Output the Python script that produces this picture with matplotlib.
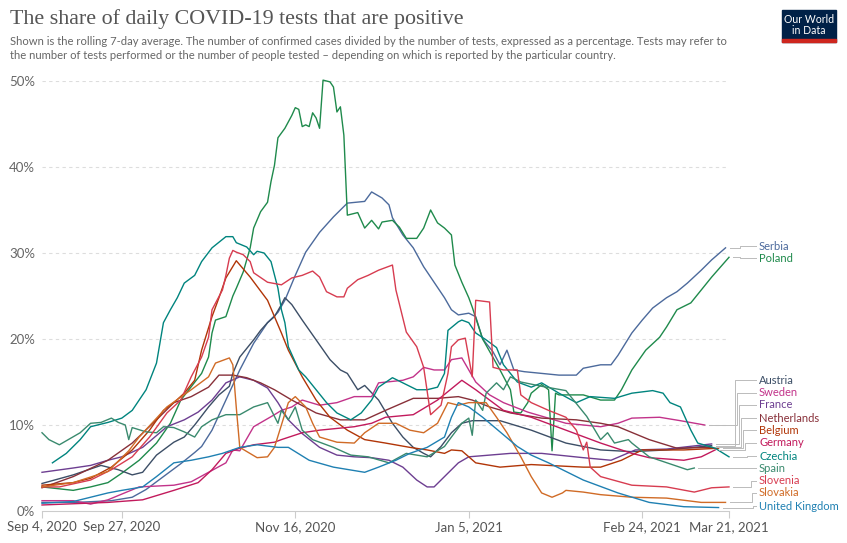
import numpy as np
import matplotlib
matplotlib.use('Agg')
import matplotlib.pyplot as plt
from matplotlib.lines import Line2D
from matplotlib.patches import Rectangle

plt.rcParams['font.family'] = ['Lato', 'DejaVu Sans']

# days since Sep 4, 2020 and share of positive tests (%)
serbia_day = [0, 10, 20, 26, 30, 35, 40, 44, 46, 49, 53, 57, 61, 65, 68, 70, 73, 76, 80, 84,
              88, 93, 95, 98, 100, 101, 104, 107, 110, 113, 116, 118, 120, 123, 125, 127, 130, 132, 134, 136,
              139, 144, 149, 154, 156, 161, 164, 166, 170, 173, 176, 180, 183, 186, 190, 193, 197]
serbia_pct = [1.0, 1.0, 1.2, 1.6, 2.5, 4.0, 5.5, 6.8, 7.5, 9.4, 12.9, 16.4, 19.5, 21.9, 23.1, 24.5, 27.4, 30.1, 32.4, 34.2,
              35.8, 36.0, 37.1, 36.4, 35.6, 34.1, 32.1, 30.6, 28.4, 26.6, 24.8, 23.4, 22.8, 23.0, 22.6, 20.0, 18.5, 17.0, 18.7, 16.4,
              16.2, 16.0, 15.8, 15.8, 16.6, 17.0, 17.0, 18.1, 20.7, 22.2, 23.6, 24.8, 25.5, 26.5, 28.0, 29.2, 30.6]

poland_day = [0, 9, 14, 19, 23, 28, 33, 37, 40, 46, 48, 49, 50, 53, 55, 56, 58, 60, 61, 63,
              65, 66, 67, 68, 70, 72, 73, 74, 75, 76, 77, 78, 79, 80, 81, 83, 84, 85, 86, 87,
              88, 91, 93, 95, 97, 98, 101, 103, 105, 108, 110, 112, 114, 116, 118, 119, 121, 123, 124, 127,
              132, 135, 136, 138, 140, 141, 144, 146, 147, 148, 149, 156, 161, 165, 167, 170, 174, 178, 180, 183,
              187, 190, 193, 198]
poland_pct = [2.8, 2.4, 2.8, 3.3, 4.4, 5.9, 7.9, 10.2, 12.9, 16.0, 17.9, 20.7, 22.2, 22.6, 25.0, 25.9, 27.8, 30.6, 32.9, 34.8,
              35.9, 38.3, 40.2, 43.4, 44.5, 46.0, 46.9, 46.7, 44.7, 44.9, 44.7, 46.3, 45.7, 44.5, 50.1, 49.9, 49.3, 46.4, 47.0, 43.7,
              34.4, 34.7, 32.9, 33.8, 32.8, 33.6, 33.8, 33.0, 31.7, 31.7, 32.9, 35.0, 33.5, 32.9, 32.1, 28.6, 26.6, 24.8, 23.7, 20.0,
              16.4, 14.1, 11.5, 11.4, 12.6, 13.7, 14.7, 14.1, 7.0, 13.7, 13.5, 13.5, 12.9, 12.9, 14.1, 16.4, 18.7, 20.2, 21.4, 23.4,
              24.2, 25.7, 27.2, 29.5]

austria_day = [0, 9, 17, 22, 26, 29, 33, 38, 41, 44, 48, 51, 54, 55, 57, 61, 63, 65, 67, 69,
               70, 72, 75, 79, 83, 86, 88, 91, 93, 97, 101, 104, 107, 110, 112, 115, 118, 121, 124, 128,
               132, 141, 151, 161, 170, 180, 193]
austria_pct = [3.2, 4.2, 5.3, 4.8, 4.2, 4.5, 6.5, 8.0, 8.6, 10.0, 12.1, 13.5, 14.5, 16.0, 17.9, 19.9, 21.0, 21.9, 22.6, 24.0,
               24.8, 24.0, 22.2, 19.9, 17.6, 16.4, 16.0, 14.1, 14.6, 12.9, 10.2, 8.6, 7.4, 6.7, 6.3, 7.5, 9.1, 10.2, 10.5, 10.5,
               10.5, 9.4, 7.9, 7.1, 6.9, 7.1, 7.6]

sweden_day = [0, 9, 14, 19, 28, 38, 43, 48, 53, 55, 57, 61, 67, 69, 72, 75, 80, 85, 90, 95,
              97, 104, 107, 110, 113, 116, 118, 121, 125, 129, 133, 140, 151, 161, 166, 170, 178, 184, 191]
sweden_pct = [1.2, 1.2, 0.8, 1.3, 2.8, 3.0, 3.4, 4.5, 5.6, 7.1, 7.0, 9.8, 11.2, 11.7, 12.1, 12.9, 12.3, 12.6, 13.3, 13.3,
              14.9, 15.2, 15.6, 16.7, 16.4, 16.4, 17.6, 17.8, 15.0, 13.5, 12.6, 11.5, 10.2, 9.8, 10.2, 10.8, 10.9, 10.5, 10.0]

france_day = [0, 9, 14, 19, 23, 29, 36, 41, 45, 49, 53, 57, 61, 65, 68, 71, 75, 80, 85, 90,
              95, 100, 104, 108, 111, 113, 116, 120, 123, 129, 135, 144, 156, 164, 171, 180, 193]
france_pct = [4.5, 5.0, 5.3, 5.9, 6.3, 7.4, 9.8, 10.6, 11.5, 12.9, 14.9, 15.6, 15.2, 14.3, 12.6, 10.6, 9.0, 7.4, 6.5, 6.3,
              6.2, 5.9, 5.1, 3.6, 2.8, 2.8, 4.0, 5.6, 6.3, 6.5, 6.7, 6.7, 6.2, 5.9, 7.1, 7.2, 7.8]

netherlands_day = [0, 9, 19, 26, 33, 38, 43, 48, 51, 55, 59, 63, 67, 72, 79, 86, 93, 99, 107, 114,
                   120, 124, 129, 135, 144, 154, 161, 166, 175, 183, 193]
netherlands_pct = [2.7, 4.0, 5.9, 7.9, 10.6, 12.6, 13.3, 14.4, 15.8, 15.8, 15.5, 14.9, 14.1, 12.9, 11.4, 10.6, 10.6, 11.7, 13.1, 13.1,
                   13.3, 12.9, 12.1, 11.4, 10.8, 10.6, 10.2, 9.8, 8.3, 7.3, 7.4]

belgium_day = [0, 9, 14, 20, 26, 31, 35, 38, 41, 44, 46, 49, 51, 53, 56, 60, 65, 69, 71, 75,
               79, 83, 88, 93, 99, 106, 111, 116, 118, 121, 125, 132, 141, 156, 161, 167, 173, 185, 195]
belgium_pct = [3.0, 3.3, 3.8, 5.1, 7.1, 9.4, 11.7, 12.6, 13.7, 15.2, 18.7, 22.6, 24.8, 27.1, 29.1, 27.2, 24.5, 20.7, 18.7, 15.6,
               12.9, 10.9, 9.4, 8.3, 7.9, 7.4, 7.1, 6.7, 7.1, 7.0, 5.6, 5.1, 5.4, 5.1, 5.1, 5.9, 7.1, 7.1, 7.3]

germany_day = [0, 19, 29, 38, 45, 49, 53, 57, 61, 67, 69, 75, 80, 90, 95, 99, 107, 114, 121, 125,
               129, 133, 141, 151, 161, 170, 175, 185, 190, 194]
germany_pct = [0.7, 1.0, 1.3, 2.4, 3.3, 4.8, 6.7, 7.3, 7.7, 8.0, 8.3, 9.1, 9.4, 9.8, 10.2, 10.9, 11.2, 12.9, 15.2, 14.1,
               12.9, 11.7, 10.9, 9.4, 7.9, 6.7, 6.2, 5.9, 6.3, 7.1]

czechia_day = [3, 7, 11, 14, 19, 23, 26, 30, 33, 35, 37, 39, 41, 42, 44, 46, 49, 53, 55, 56,
               59, 61, 62, 64, 66, 68, 69, 70, 71, 74, 76, 79, 82, 85, 89, 92, 95, 97, 101, 104,
               108, 111, 114, 116, 117, 120, 121, 123, 125, 128, 131, 133, 137, 141, 144, 149, 154, 158, 165, 170,
               176, 179, 181, 184, 187, 189, 194, 198]
czechia_pct = [5.6, 6.7, 8.3, 9.8, 10.3, 10.8, 11.7, 14.1, 17.2, 21.9, 23.4, 24.8, 26.5, 26.8, 27.4, 29.0, 30.6, 31.9, 31.9, 31.2,
               30.7, 29.8, 30.2, 30.0, 29.0, 25.9, 23.4, 21.9, 19.1, 16.4, 15.6, 14.1, 12.6, 11.4, 10.6, 11.4, 12.9, 14.4, 15.5, 14.9,
               14.1, 14.1, 14.4, 16.0, 21.0, 22.0, 22.2, 21.9, 20.7, 19.9, 19.0, 17.0, 15.0, 14.4, 14.9, 13.7, 12.6, 13.3, 13.1, 13.7,
               14.0, 13.7, 12.6, 12.1, 9.4, 7.9, 7.3, 6.3]

spain_day = [0, 2, 5, 11, 14, 17, 20, 22, 24, 25, 26, 30, 33, 35, 38, 41, 44, 46, 49, 53,
             57, 61, 65, 68, 69, 71, 73, 75, 78, 84, 89, 94, 100, 105, 111, 116, 118, 121, 123, 124,
             125, 127, 128, 131, 133, 135, 138, 144, 151, 154, 157, 161, 163, 165, 169, 170, 175, 186, 188]
spain_pct = [9.1, 8.3, 7.7, 9.1, 10.2, 10.3, 10.8, 10.3, 10.0, 8.3, 9.7, 9.2, 9.1, 9.8, 9.7, 9.2, 8.6, 9.8, 10.6, 11.2,
             11.2, 12.1, 12.6, 10.2, 11.7, 10.6, 12.1, 9.4, 8.3, 7.4, 6.5, 6.3, 5.6, 6.7, 6.3, 7.5, 8.6, 10.2, 10.8, 8.8,
             12.9, 11.7, 13.7, 14.9, 14.1, 15.6, 15.0, 14.5, 14.0, 12.5, 11.0, 8.3, 9.1, 7.9, 8.3, 7.9, 6.3, 4.8, 5.0]

slovenia_day = [0, 5, 14, 20, 26, 31, 36, 40, 43, 46, 48, 49, 52, 53, 54, 55, 56, 58, 60, 61,
                65, 69, 72, 75, 78, 80, 82, 85, 87, 88, 91, 94, 97, 101, 102, 105, 108, 110, 112, 115,
                117, 118, 120, 122, 124, 125, 129, 130, 133, 137, 138, 141, 146, 151, 154, 156, 157, 158, 161, 170,
                180, 188, 193, 198]
slovenia_pct = [2.8, 2.8, 3.6, 4.8, 6.3, 8.6, 11.4, 12.9, 15.6, 17.9, 20.2, 23.4, 25.7, 27.4, 29.4, 30.3, 30.1, 29.8, 29.0, 27.7,
                26.6, 26.3, 27.1, 27.4, 27.9, 27.2, 25.5, 24.9, 24.9, 25.9, 26.9, 27.4, 28.0, 28.6, 25.7, 20.8, 19.1, 16.7, 11.2, 12.3,
                16.0, 19.1, 19.9, 20.1, 15.6, 24.5, 24.3, 16.7, 16.4, 16.4, 13.5, 12.6, 11.7, 10.9, 9.4, 7.1, 8.0, 5.1, 4.0, 3.0,
                2.8, 2.2, 2.7, 2.8]

slovakia_day = [0, 9, 19, 22, 25, 28, 36, 43, 48, 50, 54, 55, 56, 57, 62, 65, 67, 69, 71, 73,
                76, 78, 80, 85, 90, 93, 97, 102, 106, 110, 114, 117, 120, 123, 128, 131, 134, 138, 141, 144,
                147, 150, 151, 156, 161, 170, 180, 190, 197]
slovakia_pct = [2.8, 3.3, 4.6, 5.8, 7.0, 8.6, 12.1, 14.1, 15.6, 17.2, 17.8, 17.0, 12.0, 7.4, 6.2, 6.3, 7.4, 10.0, 12.6, 13.3,
                12.1, 10.2, 8.6, 8.0, 7.9, 9.1, 10.2, 10.2, 9.4, 9.1, 10.2, 12.6, 12.3, 12.6, 12.6, 10.9, 9.1, 6.3, 4.0, 2.1,
                1.6, 2.1, 2.4, 2.2, 1.9, 1.6, 1.5, 1.0, 1.0]

uk_day = [0, 9, 19, 23, 29, 33, 38, 43, 48, 52, 57, 62, 68, 71, 77, 84, 90, 93, 97, 102,
          106, 111, 116, 118, 120, 123, 127, 132, 137, 141, 146, 156, 166, 175, 185, 195]
uk_pct = [0.9, 1.1, 2.1, 2.4, 2.8, 4.0, 5.6, 5.9, 6.3, 6.7, 7.4, 7.7, 7.4, 7.4, 5.9, 5.1, 4.7, 4.5, 5.1, 5.9,
          6.7, 7.4, 8.6, 10.9, 12.6, 12.1, 10.9, 9.2, 7.5, 6.5, 5.6, 3.6, 2.1, 1.0, 0.5, 0.4]

countries = ['Serbia', 'Poland', 'Austria', 'Sweden', 'France', 'Netherlands', 'Belgium',
             'Germany', 'Czechia', 'Spain', 'Slovenia', 'Slovakia', 'United Kingdom']
days = [serbia_day, poland_day, austria_day, sweden_day, france_day, netherlands_day, belgium_day,
        germany_day, czechia_day, spain_day, slovenia_day, slovakia_day, uk_day]
pcts = [serbia_pct, poland_pct, austria_pct, sweden_pct, france_pct, netherlands_pct, belgium_pct,
        germany_pct, czechia_pct, spain_pct, slovenia_pct, slovakia_pct, uk_pct]
colors = ['#4C6A9C', '#1F8A4C', '#3C4E66', '#C2338A', '#6D3E91', '#883039', '#B13507',
          '#C21A5C', '#00847E', '#3A8A6E', '#D73C50', '#D06B26', '#1F80B2']
# label positions (pixel rows from the top) for the right-hand legend
label_rows = [246, 258, 380, 393, 405, 418, 430, 443, 456, 468, 481, 493, 506]
step_cols = [740, 740, 735, 737, 739, 741, 743, 745, 747, 749, 751, 752, 753]

tick_dates = ['2020-09-04', '2020-09-27', '2020-11-16', '2021-01-05', '2021-02-24', '2021-03-21']
tick_labels = ['Sep 4, 2020', 'Sep 27, 2020', 'Nov 16, 2020', 'Jan 5, 2021', 'Feb 24, 2021', 'Mar 21, 2021']

W, H = 847, 543
start = np.datetime64('2020-09-04')

fig = plt.figure(figsize=(W / 100, H / 100), dpi=100)
ax = fig.add_axes([42 / W, 32 / H, 687 / W, 430 / H])

for d, p, c in zip(days, pcts, colors):
    dates = start + np.array(d).astype('timedelta64[D]')
    ax.plot(dates, p, color=c, lw=1.0, clip_on=False, solid_joinstyle='round')

ax.set_xlim(start, start + np.timedelta64(198, 'D'))
ax.set_ylim(0, 50)
ax.set_yticks([0, 10, 20, 30, 40, 50])
ax.set_yticklabels(['0%', '10%', '20%', '30%', '40%', '50%'])
ax.set_xticks([np.datetime64(t) for t in tick_dates])
ax.set_xticklabels(tick_labels)
for s in ['top', 'right', 'left']:
    ax.spines[s].set_visible(False)
ax.spines['bottom'].set_color('#cccccc')
ax.tick_params(axis='y', length=0, pad=5, labelsize=9.5, labelcolor='#666666')
ax.tick_params(axis='x', length=5, color='#cccccc', pad=2, labelsize=9.5, labelcolor='#555555')
for y in [10, 20, 30, 40, 50]:
    ax.axhline(y, color='#dddddd', lw=0.8, ls=(0, (3, 3)), zorder=0)

# right-hand labels with connectors
fig.canvas.draw()
for d, p, c, name, row, xm in zip(days, pcts, colors, countries, label_rows, step_cols):
    ex, ey = ax.transData.transform((start + np.timedelta64(d[-1], 'D'), p[-1]))
    ey = H - ey
    xs = [ex + 4, xm, xm, 756]
    ys = [ey, ey, row, row]
    fig.add_artist(Line2D([x / W for x in xs], [1 - y / H for y in ys],
                          color='#bbbbbb', lw=0.7, transform=fig.transFigure))
    fig.text(759 / W, 1 - row / H, name, color=c, fontsize=8, va='center', ha='left')

fig.text(10 / W, 1 - 9 / H, 'The share of daily COVID-19 tests that are positive',
         family='Liberation Serif', fontsize=15.8, color='#555555', va='top')
fig.text(10 / W, 1 - 36 / H,
         'Shown is the rolling 7-day average. The number of confirmed cases divided by the number of tests, '
         'expressed as a percentage. Tests may refer to\nthe number of tests performed or the number of people '
         'tested – depending on which is reported by the particular country.',
         fontsize=8.1, color='#666666', va='top', linespacing=1.3)

# logo
fig.add_artist(Rectangle((782 / W, 1 - 42 / H), 54 / W, 32 / H, color='#002147', transform=fig.transFigure))
fig.add_artist(Rectangle((782 / W, 1 - 42 / H), 54 / W, 3 / H, color='#CE261E', transform=fig.transFigure))
fig.text(809 / W, 1 - 25 / H, 'Our World\nin Data', color='white', fontsize=7.6, ha='center', va='center',
         linespacing=1.1)

fig.savefig('out.png', dpi=100)
